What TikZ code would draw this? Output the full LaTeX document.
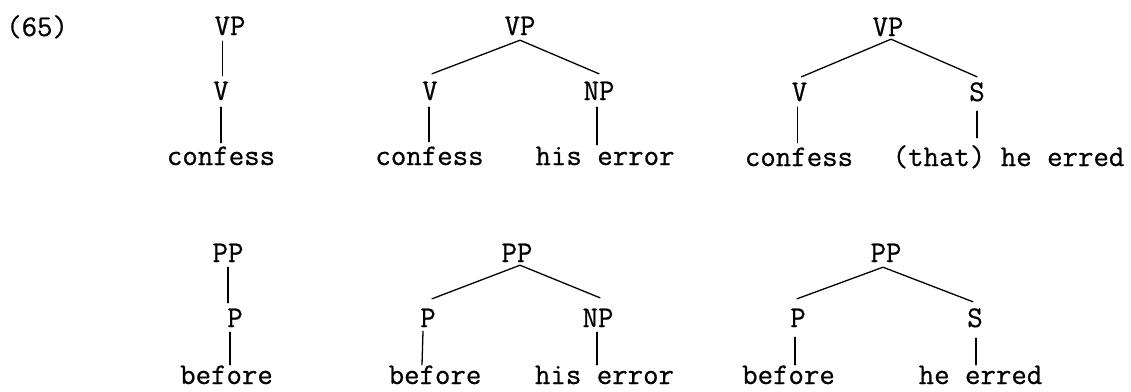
\documentclass[tikz,border=0pt]{standalone}
\usepackage{fontspec}
\newfontfamily\twfont{Latin Modern Mono}[FakeBold=0.6]
\usetikzlibrary{calc}
\tikzset{
  lbl/.style={font=\fontsize{30}{30}\selectfont\twfont, inner sep=0pt, text height=18pt, text depth=0pt, anchor=base},
  br/.style={line width=1.3pt, line cap=round}
}
\begin{document}
\begin{tikzpicture}[x=1pt,y=-1pt]
\path[use as bounding box] (0,0) rectangle (1131,391);
\node[lbl,anchor=base west] (ex) at (6,36) {(65)};
% tree A
\node[lbl] (a0) at (230,35) {VP};
\node[lbl] (a1) at (221,100) {V};
\node[lbl] (a2) at (221,165) {confess};
\draw[br] ($(a1.north |- a0.south)+(1.5,6)$) -- ($(a1.north)+(1.5,-6)$);
\draw[br] ($(a1.south)+(0,7)$) -- ($(a1.south |- a2.north)+(0,-4)$);
% tree B
\node[lbl] (b0) at (520,35) {VP};
\node[lbl] (b1) at (430,100) {V};
\node[lbl] (b2) at (599,100) {NP};
\node[lbl] (b3) at (429.5,165) {confess};
\node[lbl] (b4) at (605,165) {his error};
\draw[br] ($(b1.north)+(2,-8)$) -- ($(b0.south)+(0,5)$) -- ($(b2.north)+(0,-8)$);
\draw[br] ($(b1.south)+(-1,7)$) -- ($(b1.south |- b3.north)+(-1,-5)$);
\draw[br] ($(b2.south)+(-2,7)$) -- ($(b2.south |- b4.north)+(-2,-2)$);
% tree C
\node[lbl] (c0) at (888,36) {VP};
\node[lbl] (c1) at (799.5,101) {V};
\node[lbl] (c2) at (977,101) {S};
\node[lbl] (c3) at (799,166) {confess};
\node[lbl] (c4) at (1008.5,166) {(that) he erred};
\draw[br] ($(c1.north)+(2,-6)$) -- ($(c0.south)+(3,3)$) -- ($(c2.north)+(0,-6)$);
\draw[br] ($(c1.south)+(-2,6)$) -- ($(c1.south |- c3.north)+(-2,-5)$);
\draw[br] ($(c2.south)+(0,10)$) -- ($(c2.south |- c4.north)+(0,-10)$);
% tree D
\node[lbl] (d0) at (228,262) {PP};
\node[lbl] (d1) at (235,327) {P};
\node[lbl] (d2) at (226.5,384) {before};
\draw[br] ($(d0.south)+(0,5)$) -- ($(d0.south |- d1.north)+(0,-6)$);
\draw[br] ($(d1.south)+(-5,5)$) -- ($(d1.south |- d2.north)+(-5,-1)$);
% tree E
\node[lbl] (e0) at (517,262) {PP};
\node[lbl] (e1) at (428,327) {P};
\node[lbl] (e2) at (598,327) {NP};
\node[lbl] (e3) at (435,384) {before};
\node[lbl] (e4) at (604.5,384) {his error};
\draw[br] ($(e1.north)+(4,-10)$) -- ($(e0.south)+(3,3)$) -- ($(e2.north)+(2,-11)$);
\draw[br] ($(e1.south)+(-5,4)$) -- ($(e1.south |- e3.north)+(-6,-1)$);
\draw[br] ($(e2.south)+(-1,5)$) -- ($(e2.south |- e4.north)+(-1,-1)$);
% tree F
\node[lbl] (f0) at (886,262) {PP};
\node[lbl] (f1) at (798,327) {P};
\node[lbl] (f2) at (975,327) {S};
\node[lbl] (f3) at (788.5,384) {before};
\node[lbl] (f4) at (980.5,384) {he erred};
\draw[br] ($(f1.north)+(-1,-10)$) -- ($(f0.south)+(-3,5)$) -- ($(f2.north)+(-2,-7)$);
\draw[br] ($(f1.south)+(-3,10)$) -- ($(f1.south |- f3.north)+(-3,-1)$);
\draw[br] ($(f2.south)+(1,11)$) -- ($(f2.south |- f4.north)+(1,-1)$);
\end{tikzpicture}
\end{document}
